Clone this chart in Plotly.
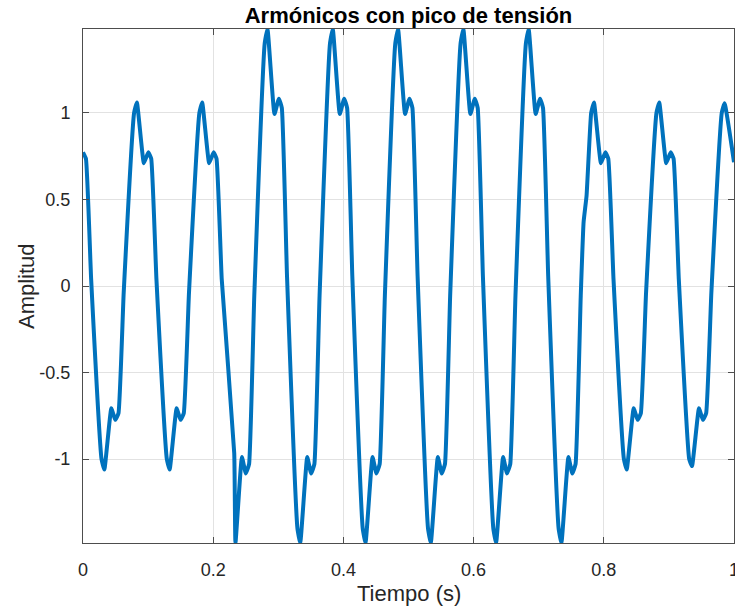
import plotly.graph_objects as go

# Waveform vertices: time (s) and amplitude, one row per cycle of the 10 Hz signal
tiempo = [
    0.0000, 0.0045, 0.0125, 0.0285, 0.0328, 0.0435, 0.0495, 0.0545, 0.0625, 0.0785, 0.0828, 0.0935,
    0.1003, 0.1048, 0.1128, 0.1288, 0.1331, 0.1438, 0.1498, 0.1548, 0.1628, 0.1788, 0.1831, 0.1938,
    0.2006, 0.2051, 0.2131, 0.2323, 0.2342, 0.2441, 0.2501, 0.2551, 0.2631, 0.2791, 0.2834, 0.2941,
    0.3009, 0.3054, 0.3134, 0.3294, 0.3337, 0.3444, 0.3504, 0.3554, 0.3634, 0.3794, 0.3837, 0.3944,
    0.4012, 0.4057, 0.4137, 0.4297, 0.4340, 0.4447, 0.4507, 0.4557, 0.4637, 0.4797, 0.4840, 0.4947,
    0.5015, 0.5060, 0.5140, 0.5300, 0.5343, 0.5450, 0.5510, 0.5560, 0.5640, 0.5800, 0.5843, 0.5950,
    0.6018, 0.6063, 0.6143, 0.6303, 0.6346, 0.6453, 0.6513, 0.6563, 0.6643, 0.6803, 0.6846, 0.6953,
    0.7021, 0.7066, 0.7146, 0.7306, 0.7349, 0.7456, 0.7516, 0.7566, 0.7646, 0.7690, 0.7735, 0.7806, 0.7849, 0.7956,
    0.8024, 0.8069, 0.8149, 0.8309, 0.8352, 0.8459, 0.8519, 0.8569, 0.8649, 0.8809, 0.8852, 0.8959,
    0.9027, 0.9072, 0.9152, 0.9312, 0.9355, 0.9462, 0.9522, 0.9572, 0.9652, 0.9812, 0.9855, 1.0000,
]

amplitud = [
    0.772, 0.735, 0.040, -1.000, -1.060, -0.706, -0.773, -0.735, -0.040, 1.000, 1.060, 0.709,
    0.772, 0.735, 0.040, -1.000, -1.060, -0.706, -0.773, -0.735, -0.040, 1.000, 1.060, 0.709,
    0.772, 0.735, 0.040, -0.965, -1.484, -0.988, -1.082, -1.029, -0.056, 1.400, 1.484, 0.993,
    1.081, 1.029, 0.056, -1.400, -1.484, -0.988, -1.082, -1.029, -0.056, 1.400, 1.484, 0.993,
    1.081, 1.029, 0.056, -1.400, -1.484, -0.988, -1.082, -1.029, -0.056, 1.400, 1.484, 0.993,
    1.081, 1.029, 0.056, -1.400, -1.484, -0.988, -1.082, -1.029, -0.056, 1.400, 1.484, 0.993,
    1.081, 1.029, 0.056, -1.400, -1.484, -0.988, -1.082, -1.029, -0.056, 1.400, 1.484, 0.993,
    1.081, 1.029, 0.056, -1.400, -1.484, -0.988, -1.082, -1.029, -0.056, 0.370, 0.520, 1.000, 1.060, 0.709,
    0.772, 0.735, 0.040, -1.000, -1.060, -0.706, -0.773, -0.735, -0.040, 1.000, 1.060, 0.709,
    0.772, 0.735, 0.040, -1.000, -1.040, -0.706, -0.773, -0.735, -0.040, 1.000, 1.055, 0.715,
]

x_ticks = [0, 0.2, 0.4, 0.6, 0.8, 1]
x_tick_labels = ["0", "0.2", "0.4", "0.6", "0.8", "1"]
y_ticks = [-1, -0.5, 0, 0.5, 1]
y_tick_labels = ["-1", "-0.5", "0", "0.5", "1"]

FONT = "Liberation Sans, Arial, Helvetica, sans-serif"
AXIS_COLOR = "#262626"
GRID_COLOR = "#e2e2e2"

fig = go.Figure()
fig.add_trace(go.Scatter(
    x=tiempo, y=amplitud, mode="lines",
    line=dict(color="#0072BD", width=4, shape="spline", smoothing=0.35),
    showlegend=False,
))

axis_common = dict(
    showline=True, linecolor="#4d4d4d", linewidth=1, mirror="ticks",
    ticks="inside", ticklen=6, tickcolor="#4d4d4d", tickwidth=1,
    showgrid=True, gridcolor=GRID_COLOR, gridwidth=1,
    zeroline=False, ticklabeloverflow="allow", automargin=False,
    tickfont=dict(family=FONT, size=18, color=AXIS_COLOR),
)

fig.update_xaxes(
    range=[0, 1], tickmode="array", tickvals=x_ticks, ticktext=x_tick_labels,
    ticklabelstandoff=10, **axis_common,
)
fig.update_yaxes(
    range=[min(amplitud), max(amplitud)], tickmode="array",
    tickvals=y_ticks, ticktext=y_tick_labels,
    ticklabelstandoff=8, **axis_common,
)

fig.update_layout(
    width=735, height=608,
    margin=dict(l=83, r=1, t=29, b=65, autoexpand=False),
    paper_bgcolor="white", plot_bgcolor="white",
    title=dict(
        text="<b>Armónicos con pico de tensión</b>",
        font=dict(family=FONT, size=22, color="black"),
        xref="paper", x=0.5, xanchor="center",
        yref="container", y=1 - 15 / 608, yanchor="middle",
    ),
    annotations=[
        dict(text="Tiempo (s)", xref="paper", yref="paper", x=0.5, y=0,
             xanchor="center", yanchor="middle", yshift=-50, showarrow=False,
             font=dict(family=FONT, size=22, color=AXIS_COLOR)),
        dict(text="Amplitud", xref="paper", yref="paper", x=0, y=0.5,
             xanchor="center", yanchor="middle", xshift=-57, textangle=-90,
             showarrow=False, font=dict(family=FONT, size=22, color=AXIS_COLOR)),
    ],
)

fig.write_html("out.html")
